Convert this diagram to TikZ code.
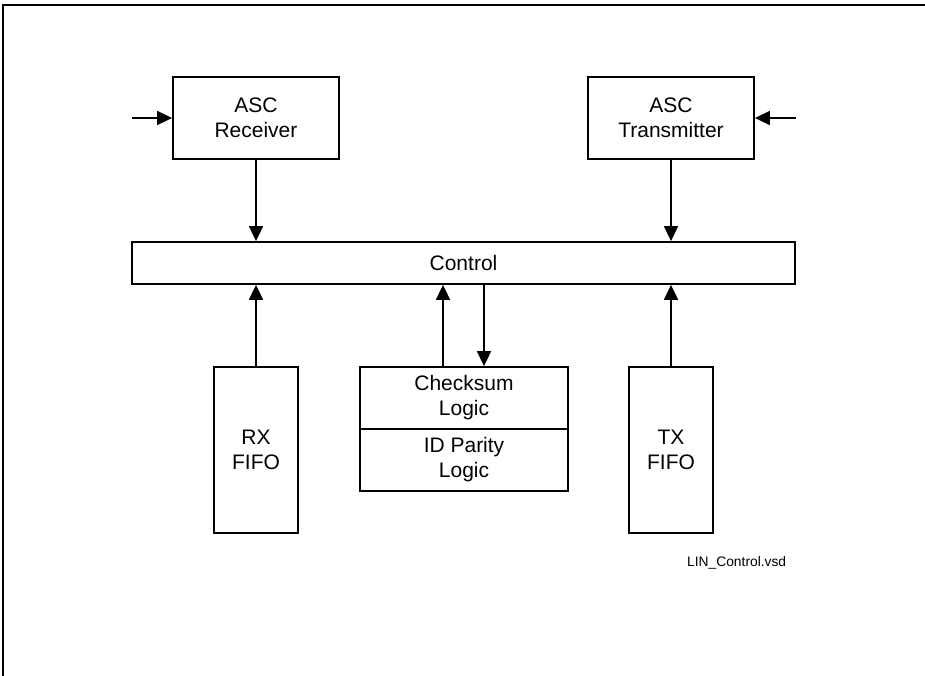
\documentclass[tikz,border=0pt]{standalone}
\usepackage{fontspec}
\setmainfont{Liberation Sans}
\usetikzlibrary{arrows.meta,calc}
\begin{document}
\begin{tikzpicture}[x=1pt,y=-1pt,
  blk/.style={draw,line width=1.8pt,inner sep=0pt,align=center,font=\fontsize{21}{25}\selectfont},
  conn/.style={line width=1.8pt,-{Triangle[length=15pt,width=14pt]}}]
\useasboundingbox (0,0) rectangle (925,676);
\draw[line width=1.8pt] (3,676) -- (3,5) -- (925,5);
\node[blk,minimum width=166pt,minimum height=82pt] (recv) at (256,118) {ASC\\Receiver};
\node[blk,minimum width=166pt,minimum height=82pt] (trans) at (671,118) {ASC\\Transmitter};
\node[blk,minimum width=663pt,minimum height=42pt] (ctrl) at (463.5,263) {Control};
\node[blk,minimum width=84pt,minimum height=166pt] (rx) at (256,450) {RX\\FIFO};
\node[blk,minimum width=84pt,minimum height=166pt] (tx) at (671,450) {TX\\FIFO};
\node[blk,minimum width=208pt,minimum height=62pt] (chk) at (464,398) {Checksum\\Logic};
\node[blk,minimum width=208pt,minimum height=62pt] (par) at (464,460) {ID Parity\\Logic};
\node[font=\fontsize{13.8}{16}\selectfont,anchor=west,inner sep=0pt] (fn) at (687,563) {LIN\_Control.vsd};
\coordinate (rin) at (132,118);
\coordinate (tin) at (796,118);
\draw[conn] (rin) -- (recv.west);
\draw[conn] (tin) -- (trans.east);
\draw[conn] (recv.south) -- (recv.south |- ctrl.north);
\draw[conn] (trans.south) -- (trans.south |- ctrl.north);
\draw[conn] (rx.north) -- (rx.north |- ctrl.south);
\draw[conn] (tx.north) -- (tx.north |- ctrl.south);
\coordinate (up) at ($(chk.north)+(-21,0)$);
\coordinate (dn) at ($(chk.north)+(20,0)$);
\draw[conn] (up) -- (up |- ctrl.south);
\draw[conn] (dn |- ctrl.south) -- (dn);
\end{tikzpicture}
\end{document}
